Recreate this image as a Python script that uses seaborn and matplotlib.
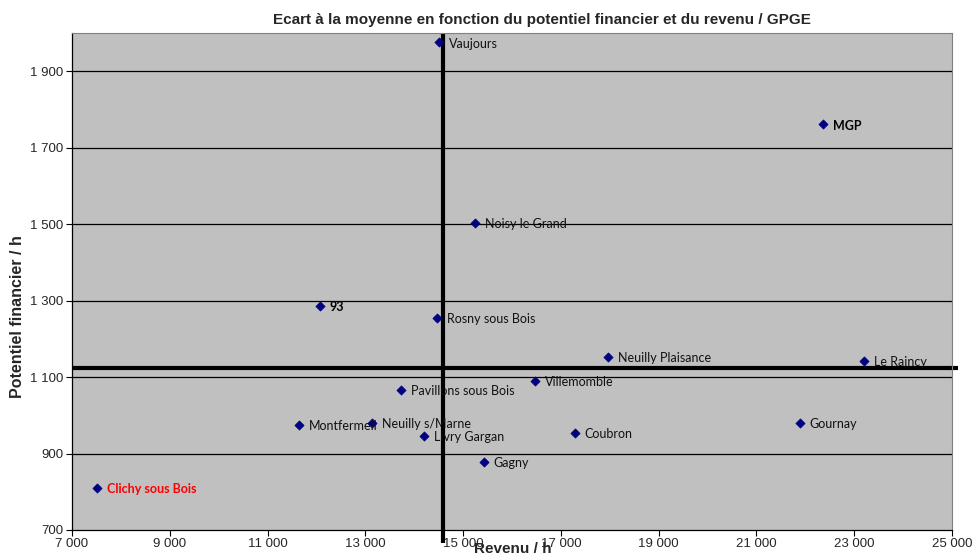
import matplotlib
matplotlib.use("Agg")
import matplotlib.pyplot as plt
import seaborn as sns
import pandas as pd

communes = ["Vaujours", "MGP", "Noisy le Grand", "93", "Rosny sous Bois",
            "Neuilly Plaisance", "Le Raincy", "Villemomble", "Pavillons sous Bois",
            "Montfermeil", "Neuilly s/Marne", "Livry Gargan", "Coubron", "Gagny",
            "Gournay", "Clichy sous Bois"]
revenu = [14507, 22361, 15243, 12073, 14466, 17963, 23200, 16470, 13730,
          11643, 13136, 14200, 17288, 15427, 21891, 7511]
potentiel = [1976, 1761, 1504, 1287, 1255, 1153, 1143, 1090, 1067,
             975, 980, 946, 954, 878, 980, 810]
moyenne_revenu = 14588
moyenne_potentiel = 1124

x_ticks = [7000, 9000, 11000, 13000, 15000, 17000, 19000, 21000, 23000, 25000]
y_ticks = [700, 900, 1100, 1300, 1500, 1700, 1900]

bold_labels = {"93": "black", "MGP": "black", "Clichy sous Bois": "#FF0000"}

df = pd.DataFrame({"commune": communes, "revenu": revenu, "potentiel": potentiel})

sns.set_theme(style="white")
plt.rcParams["font.family"] = ["Liberation Sans", "DejaVu Sans"]

fig = plt.figure(figsize=(9.74, 5.55), dpi=100)
ax = fig.add_axes([72 / 974, 1 - 530 / 555, 880 / 974, 497 / 555])
ax.set_facecolor("#C0C0C0")

ax.set_xlim(7000, 25000)
ax.set_ylim(700, 2000)

for yt in y_ticks[1:]:
    ax.axhline(yt, color="black", lw=0.9, zorder=1)

# mean lines, slightly overshooting the plot frame
ax.plot([moyenne_revenu, moyenne_revenu], [665, 2000], color="black", lw=3,
        clip_on=False, zorder=2, solid_capstyle="butt")
ax.plot([7000, 25130], [moyenne_potentiel, moyenne_potentiel], color="black", lw=3,
        clip_on=False, zorder=2, solid_capstyle="butt")

sns.scatterplot(data=df, x="revenu", y="potentiel", marker="D", s=22,
                color="#000080", edgecolor="#000080", linewidth=0.5, ax=ax, zorder=3)

for name, xv, yv in zip(communes, revenu, potentiel):
    if name in bold_labels:
        ax.annotate(name, (xv, yv), xytext=(7, -1), textcoords="offset points",
                    va="center", ha="left", fontsize=9, fontweight="bold",
                    color=bold_labels[name], family=["Lato", "DejaVu Sans"], zorder=4)
    else:
        ax.annotate(name, (xv, yv), xytext=(7, -1), textcoords="offset points",
                    va="center", ha="left", fontsize=9, color="#111111",
                    family=["Lato", "DejaVu Sans"], zorder=4)

ax.set_xticks(x_ticks)
ax.set_xticklabels([f"{v:,}".replace(",", " ") for v in x_ticks],
                   family=["Liberation Sans Narrow", "Liberation Sans"], fontsize=9.5)
ax.set_yticks(y_ticks)
ax.set_yticklabels([f"{v:,}".replace(",", " ") for v in y_ticks], fontsize=9.5)
ax.tick_params(axis="both", direction="out", length=4, width=0.8, color="black",
               bottom=True, left=True, pad=2)

for side in ["top", "right"]:
    ax.spines[side].set_visible(True)
    ax.spines[side].set_color("#808080")
    ax.spines[side].set_linewidth(0.8)
for side in ["left", "bottom"]:
    ax.spines[side].set_color("black")
    ax.spines[side].set_linewidth(0.9)

ax.set_xlabel("")
ax.set_ylabel("")
fig.text(542 / 974, 1 - 20 / 555, "Ecart à la moyenne en fonction du potentiel financier et du revenu / GPGE",
         ha="center", va="center", fontsize=11, fontweight="bold")
fig.text(513 / 974, 1 - 549 / 555, "Revenu / h", ha="center", va="center", fontsize=11,
         fontweight="bold")
fig.text(18 / 974, 1 - 317 / 555, "Potentiel financier / h", ha="center", va="center",
         fontsize=11.5, fontweight="bold", rotation=90)

fig.savefig("out.png", dpi=100)
